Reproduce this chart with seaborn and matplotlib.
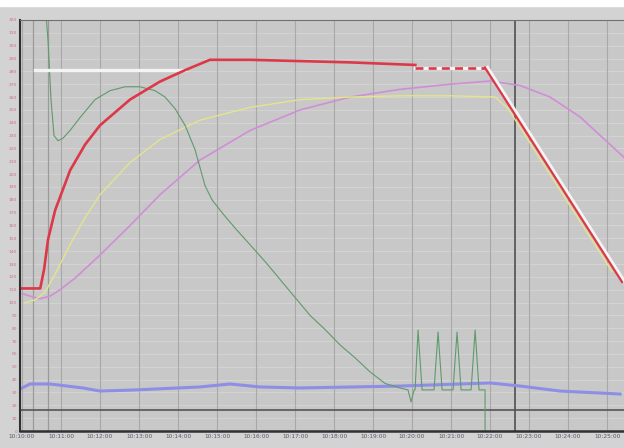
import numpy as np
import pandas as pd
import matplotlib
matplotlib.use("Agg")
import matplotlib.pyplot as plt
import seaborn as sns

# ---- data (time in s, value in deg) ----
red_t = [0, 28, 34, 40, 51, 74, 97, 120, 166, 212, 251, 289, 351, 428, 505, 605]
red_v = [111, 111, 126, 149, 172, 203, 223, 238, 258, 272, 281, 289, 289, 288, 287, 285]
red_dash_t = [605, 712]
red_dash_v = [283, 283]
red_fall_t = [712, 923]
red_fall_v = [283, 116]

white_t = [20, 251, np.nan, 605, 712, np.nan, 716, 927]
white_v = [281, 281, np.nan, 283, 283, np.nan, 283, 116]

green_t = [34, 40, 44.6, 49.2, 55.4, 63.1, 73.8, 89.2, 112.3, 135.4, 158.5, 181.5,
           204.6, 220, 235.4, 250.8, 266.2, 281.5, 292.3, 307.7, 327.7, 350.8,
           373.8, 396.9, 420, 443.1, 466.2, 489.2, 512.3, 535.4, 558.5, 581.5,
           593.8, 598.5, 603.1,
           604.6, 609.2, 615.4, 633.8, 640, 646.2, 663, 669.2, 675.4,
           690.8, 697, 703, 712.3, 712.3]
green_v = [343, 304, 258, 230, 226, 228, 234, 244, 258, 265, 268, 268,
           265, 260, 251, 238, 219, 191, 180, 170, 158, 145,
           132, 118, 104, 90, 79, 67, 57, 46, 37, 33.5,
           32, 22.6, 32,
           32, 78.6, 32, 32, 77, 32, 32, 77, 32,
           32, 78.6, 32, 32, -10]

yellow_t = [4.6, 20, 35.4, 50.8, 73.8, 96.9, 120, 166.2, 212.3, 273.8, 350.8,
            427.7, 504.6, 581.5, 658.5, 727.7, 747.7, 907.7]
yellow_v = [100, 102, 108, 122, 145, 166, 184, 209, 227, 242, 252,
            258, 260, 261, 261, 260, 251, 124]

pink_t = [0, 12.3, 27.7, 43.1, 58.5, 81.5, 120, 166.2, 212.3, 273.8, 350.8,
          427.7, 504.6, 581.5, 658.5, 720, 766.2, 812.3, 858.5, 904.6, 926.2]
pink_v = [107, 105, 103, 105, 110, 119, 137, 160, 184, 211, 234,
          250, 260, 266, 270, 272.5, 269, 260, 244.5, 223, 213]

blue_t = [0, 12.3, 43.1, 93.8, 120, 170.8, 273.8, 320, 366.2, 427.7, 581.5,
          720, 766.2, 827.7, 920]
blue_v = [33.5, 36.6, 36.6, 33.5, 31.1, 31.9, 34.3, 36.6, 34.3, 33.5, 35,
          37.4, 35, 31.1, 28.8]

x_ticks = list(range(0, 901, 60))
x_labels = [f"10:{10 + i:02d}:00" for i in range(len(x_ticks))]
y_ticks = list(range(0, 321, 10))

BG = "#c8c8c8"

fig = plt.figure(figsize=(6.24, 4.48), dpi=100)
fig.patch.set_facecolor("#d3d3d3")
fig.patches.append(plt.Rectangle((0, 0.986), 1, 0.014, transform=fig.transFigure,
                                 color="white", zorder=0))
ax = fig.add_axes([20 / 624, 17 / 448, 604 / 624, 411 / 448])
ax.set_facecolor(BG)

# grid
for yv in y_ticks:
    ax.axhline(yv, color="#d6d6d6", lw=0.6, zorder=0)
for xv in x_ticks:
    ax.axvline(xv, color="#a8a8a8", lw=0.8, zorder=0)
ax.axvline(17, color="#9a9a9a", lw=0.9, zorder=0)
ax.axvline(40, color="#9a9a9a", lw=0.9, zorder=0)
ax.axvline(758.5, color="#505050", lw=1.2, zorder=1)
ax.axhline(16.4, color="#555555", lw=1.2, zorder=1)

def draw(t, v, color, lw, **kw):
    df = pd.DataFrame({"t": t, "v": v})
    df["seg"] = df["v"].isna().cumsum()
    df = df.dropna()
    sns.lineplot(data=df, x="t", y="v", units="seg", estimator=None, sort=False,
                 color=color, lw=lw, ax=ax, **kw)

draw(blue_t, blue_v, "#8e8ee6", 2.2)
draw(pink_t, pink_v, "#d08ed6", 1.2)
draw(yellow_t, yellow_v, "#e4e48c", 1.0)
draw(green_t, green_v, "#5f9a6c", 0.8)
draw(white_t, white_v, "#f4f4f4", 2.4)
draw(red_t, red_v, "#dc3848", 1.9)
draw(red_dash_t, red_dash_v, "#dc3848", 1.9, linestyle=(0, (3, 2)))
draw(red_fall_t, red_fall_v, "#dc3848", 1.6)

ax.set_xlim(-3.1, 926)
ax.set_ylim(0, 320)
ax.set_xticks(x_ticks)
ax.set_xticklabels(x_labels, fontsize=4.2, color="#5a5a6a")
ax.set_yticks(y_ticks)
ax.set_yticklabels([str(v) for v in y_ticks], fontsize=3.2, color="#d07088")
ax.tick_params(length=0, pad=2)
ax.set_xlabel("")
ax.set_ylabel("")
for s in ["right"]:
    ax.spines[s].set_visible(False)
ax.spines["top"].set_color("#707070")
ax.spines["left"].set_color("#303030")
ax.spines["left"].set_linewidth(1.5)
ax.spines["bottom"].set_color("#303030")
ax.spines["bottom"].set_linewidth(1.8)

fig.savefig("out.png", dpi=100, facecolor=fig.get_facecolor())
